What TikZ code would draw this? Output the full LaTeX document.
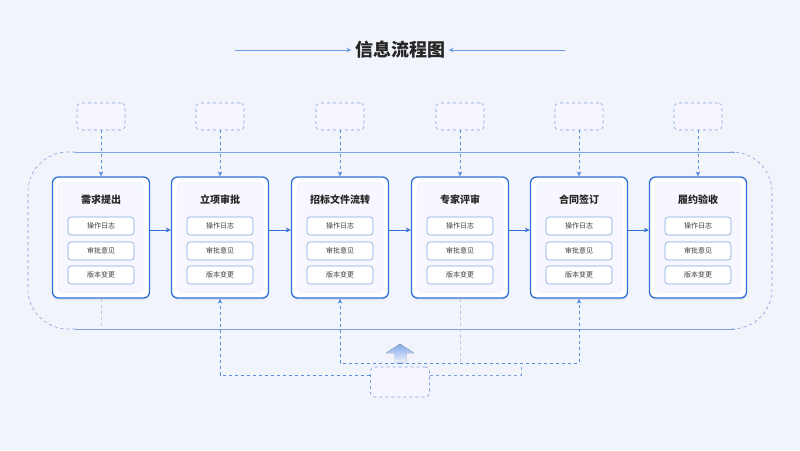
\documentclass[tikz,border=0pt]{standalone}
\usepackage{fontspec}
\setmainfont{Noto Sans CJK SC}
\usetikzlibrary{arrows.meta,shadows}
\definecolor{bg}{HTML}{F1F4FA}
\definecolor{blu}{HTML}{2F6FD8}
\definecolor{lblu}{HTML}{7FA3DD}
\definecolor{sub}{HTML}{7FA6DB}
\begin{document}
\begin{tikzpicture}[x=1pt,y=-1pt,
 stage/.style={draw=blu,line width=1.3pt,rounded corners=6pt,fill=white,minimum width=97pt,minimum height=121pt,drop shadow={opacity=0.12,shadow xshift=0pt,shadow yshift=-2pt}},
 inner/.style={draw=blu!15,rounded corners=5pt,fill=blue!3,minimum width=86pt,minimum height=110pt},
 item/.style={draw=sub,line width=0.6pt,rounded corners=3pt,fill=white,minimum width=66pt,minimum height=18pt,font=\fontsize{7}{8}\selectfont,text=black!75},
 ttl/.style={font=\fontsize{10}{12}\selectfont\bfseries,text=black!85},
 ghost/.style={draw=lblu,dashed,line width=0.6pt,rounded corners=4pt,fill=blue!4,minimum width=48pt,minimum height=27pt},
 arr/.style={blu,line width=0.7pt,-{Stealth[length=5pt,width=4.5pt]}},
 darr/.style={blu!80,dashed,line width=0.6pt,-{Stealth[length=5pt,width=4.5pt]}},
 dl/.style={lblu,dashed,line width=0.6pt}]
\fill[bg] (0,0) rectangle (800,450);
\useasboundingbox (0,0) rectangle (800,450);
\node[font=\fontsize{18}{21}\selectfont\bfseries,text=black!85] (title) at (400,50) {信息流程图};
\coordinate (tl) at (235,50); \coordinate (tr) at (565,50);
\draw[arr,blu!70] (tl) -- (title.west);
\draw[arr,blu!70] (tr) -- (title.east);
% container
\draw[dl,rounded corners=40pt] (75,152) -- (28,152) -- (28,329) -- (75,329);
\draw[dl,rounded corners=40pt] (730,152) -- (772,152) -- (772,329) -- (730,329);
\draw[lblu,line width=0.8pt] (75,152) -- (735,152);
\draw[lblu,line width=0.8pt] (75,329) -- (735,329);
\foreach \i/\x/\t in {1/101/需求提出,2/220/立项审批,3/340/招标文件流转,4/460/专家评审,5/579/合同签订,6/698/履约验收}{
 \node[stage] (s\i) at (\x,237.5) {};
 \node[inner] at (\x,237.5) {};
 \node[ttl] (t\i) at (\x,200) {\t};
 \node[item] (a\i) at (\x,226) {操作日志};
 \node[item] (b\i) at (\x,251) {审批意见};
 \node[item] (c\i) at (\x,275) {版本变更};
 \node[ghost] (g\i) at (\x,116.5) {};
 \draw[darr] (g\i) -- (s\i);
}
\foreach \i/\j in {1/2,2/3,3/4,4/5,5/6}{\draw[arr] (s\i.east|-0,230) -- (s\j.west|-0,230);}
\draw[lblu!60,dashed,line width=0.5pt] (s1.south) -- (101,328);
\draw[lblu!60,dashed,line width=0.5pt] (s4.south) -- (460,362);
% bottom
\node[ghost,minimum width=59pt,minimum height=30pt] (bot) at (400,382) {};
\fill[top color=blu!60,bottom color=blu!10] (386,353) -- (400,344) -- (414,353) -- (406,353) -- (406,362) -- (394,362) -- (394,353) -- cycle;
\draw[darr] (bot.west|-0,375) -| (s2.south);
\draw[dl] (bot.east|-0,375) -- (521,375) -- (521,363);
\draw[darr] (400,363) -| (s3.south);
\draw[darr] (400,363) -| (s5.south);
\end{tikzpicture}
\end{document}
